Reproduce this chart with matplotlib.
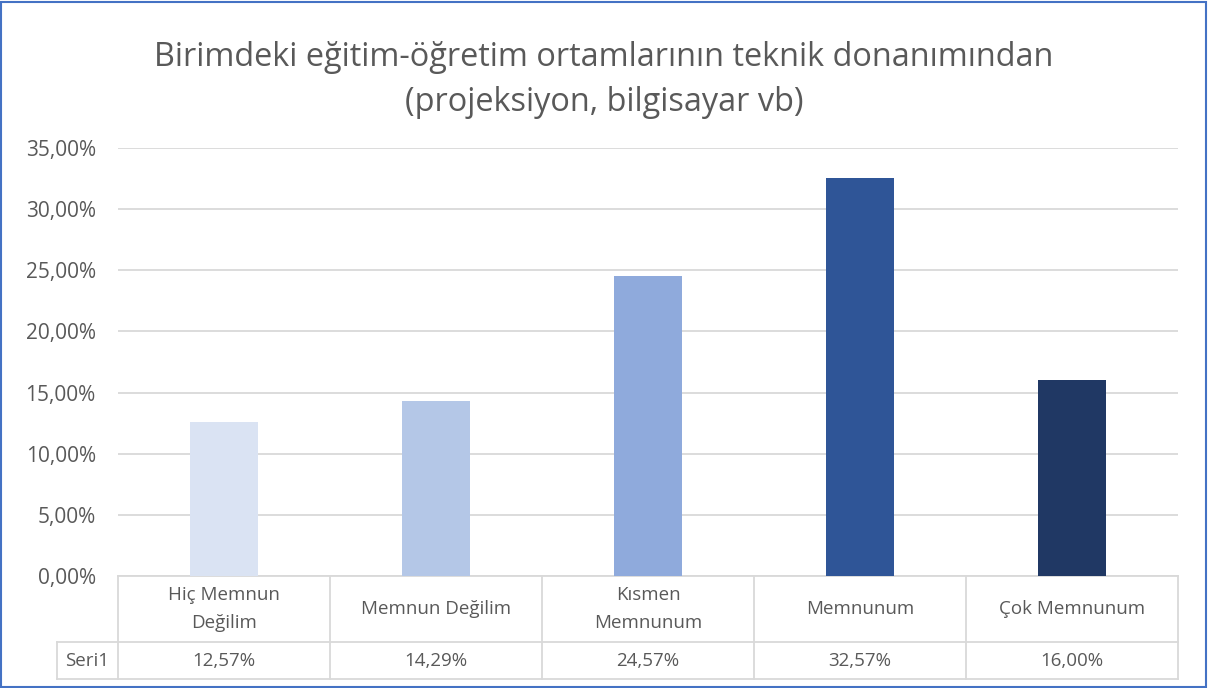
import matplotlib
matplotlib.use("Agg")
import matplotlib.pyplot as plt
from matplotlib.lines import Line2D
from matplotlib.patches import Rectangle

# data
categories = ["Hiç Memnun\nDeğilim", "Memnun Değilim", "Kısmen\nMemnunum", "Memnunum", "Çok Memnunum"]
values = [12.57, 14.29, 24.57, 32.57, 16.00]
bar_colors = ["#DAE3F3", "#B4C7E7", "#8FAADC", "#2F5597", "#203864"]
series_name = "Seri1"
title = "Birimdeki eğitim-öğretim ortamlarının teknik donanımından\n(projeksiyon, bilgisayar vb)"
yticks = [0, 5, 10, 15, 20, 25, 30, 35]

plt.rcParams['font.family'] = ['Open Sans', 'DejaVu Sans']
txt = "#595959"
grid = "#D9D9D9"

W, H = 1208, 688
fig = plt.figure(figsize=(W / 100, H / 100), dpi=100)
ax = fig.add_axes([118 / W, (H - 576) / H, (1178 - 118) / W, (576 - 148) / H])

x = list(range(len(categories)))
ax.bar(x, values, width=0.32, color=bar_colors, zorder=3)

ax.set_xlim(-0.5, len(categories) - 0.5)
ax.set_ylim(0, 35)
ax.set_yticks(yticks)
ax.set_yticklabels([f"{v:.2f}".replace(".", ",") + "%" for v in yticks], color=txt, fontsize=15)
ax.tick_params(axis="y", length=0, pad=16)
ax.set_xticks([])
ax.yaxis.grid(True, color=grid, linewidth=1.3, zorder=0)
for s in ax.spines.values():
    s.set_visible(False)

# data table under the plot
ax_h = 576 - 148
row1 = -(642 - 576) / ax_h
row2 = -(679 - 576) / ax_h
tr = ax.get_xaxis_transform()
lkw = dict(color=grid, linewidth=1.3, transform=tr, clip_on=False)
n = len(categories)
ax.add_line(Line2D([-0.5, n - 0.5], [0, 0], **lkw))
for b in [i - 0.5 for i in range(n + 1)]:
    ax.add_line(Line2D([b, b], [0, row2], **lkw))
seri_left = -0.5 - (118 - 57) / ((1178 - 118) / n)
ax.add_line(Line2D([seri_left, n - 0.5], [row1, row1], **lkw))
ax.add_line(Line2D([seri_left, n - 0.5], [row2, row2], **lkw))
ax.add_line(Line2D([seri_left, seri_left], [row1, row2], **lkw))

for i, (c, v) in enumerate(zip(categories, values)):
    ax.text(i, row1 / 2, c, transform=tr, ha="center", va="center",
            color=txt, fontsize=13.5, linespacing=1.75, clip_on=False)
    ax.text(i, (row1 + row2) / 2, f"{v:.2f}".replace(".", ",") + "%", transform=tr,
            ha="center", va="center", color=txt, fontsize=13.5, clip_on=False)
ax.text((seri_left - 0.5) / 2, (row1 + row2) / 2, series_name, transform=tr,
        ha="center", va="center", color=txt, fontsize=13.5, clip_on=False)

fig.text(0.5, (H - 80) / H, title, ha="center", va="center", color=txt,
         fontsize=23.4, linespacing=1.5)

fig.patches.append(Rectangle((1 / W, 1 / H), 1 - 3 / W, 1 - 3 / H, transform=fig.transFigure,
                             fill=False, edgecolor="#4472C4", linewidth=1.5))

fig.savefig("out.png", dpi=100)
